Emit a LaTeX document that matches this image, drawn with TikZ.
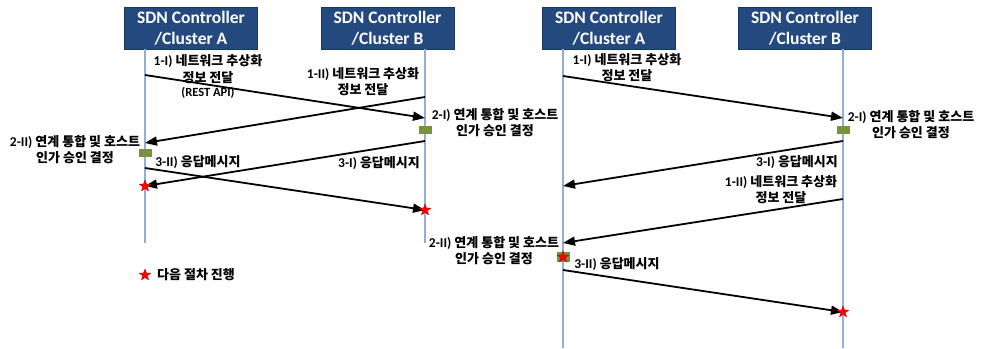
\documentclass[tikz,border=0pt]{standalone}
\usepackage{fontspec}
\setmainfont{Carlito}
\newfontfamily\krfont{Noto Sans CJK KR}
\usetikzlibrary{arrows.meta,shapes.geometric}

\definecolor{ctrlfill}{HTML}{24497E}
\definecolor{ctrledge}{HTML}{17375E}
\definecolor{lifeblue}{HTML}{97ACD6}
\definecolor{markgreen}{HTML}{76923C}

% Korean runs are set in Noto Sans CJK
\newcommand\kr[1]{{\krfont\bfseries\fontsize{13}{16}\selectfont #1}}

\tikzset{
  ctrl/.style={draw=ctrledge, line width=0.8pt, fill=ctrlfill, text=white,
    minimum width=133pt, minimum height=42pt, inner sep=0pt, align=center,
    font=\bfseries\fontsize{17.5}{21}\selectfont},
  lifeline/.style={draw=lifeblue, line width=1.3pt},
  msg/.style={draw=black, line width=1.8pt,
    -{Triangle[length=12pt,width=9pt]}},
  lbl/.style={inner sep=0pt, align=center,
    font=\bfseries\fontsize{13.5}{16}\selectfont},
  decide/.style={rectangle, fill=markgreen, minimum width=13pt,
    minimum height=8pt, inner sep=0pt},
  redstar/.style={star, star points=5, star point ratio=2.4, fill=red,
    draw=red!70!black, line width=0.3pt, minimum size=12pt, inner sep=0pt}
}

\begin{document}
\begin{tikzpicture}[x=1pt,y=-1pt]
\useasboundingbox (0,0) rectangle (982,348);

% ---------- first exchange (left) ----------
\node[ctrl] (la) at (191,28) {SDN Controller\\/Cluster A};
\node[ctrl] (lb) at (387.5,28) {SDN Controller\\/Cluster B};

\coordinate (laTop) at (145,49);  \coordinate (laBot) at (145,243);
\coordinate (lbTop) at (425,49);  \coordinate (lbBot) at (425,243);
\draw[lifeline] (laTop) -- (laBot);
\draw[lifeline] (lbTop) -- (lbBot);

% message points on the lifelines
\coordinate (la1) at (145,75);   \coordinate (lb1) at (425,118);
\coordinate (lb2) at (425,97);   \coordinate (la2) at (145,143);
\coordinate (lb3) at (425,141);  \coordinate (la3) at (145,186);
\coordinate (la4) at (145,168);  \coordinate (lb4) at (425,210);

\draw[msg] (la1) -- (lb1);
\draw[msg] (lb2) -- (la2);
\draw[msg] (lb3) -- (la3);
\draw[msg] (la4) -- (lb4);

\node[decide] (lbDec) at (425,130) {};
\node[decide] (laDec) at (145,153) {};
\node[redstar] (laDone) at (la3) {};
\node[redstar] (lbDone) at (lb4) {};

\node[lbl] (l1i) at (208,76) {1-I) \kr{네트워크 추상화}\\[1pt]\kr{정보 전달}\\[-2pt]{\fontsize{12.5}{13}\selectfont (REST API)}};
\node[lbl] (l1ii) at (363,82) {1-II) \kr{네트워크 추상화}\\\kr{정보 전달}};
\node[lbl] (l2i) at (495,123) {2-I) \kr{연계 통합 및 호스트}\\\kr{인가 승인 결정}};
\node[lbl] (l2ii) at (75,149.5) {2-II) \kr{연계 통합 및 호스트}\\\kr{인가 승인 결정}};
\node[lbl] (l3ii) at (198,162) {3-II) \kr{응답메시지}};
\node[lbl] (l3i) at (379,163) {3-I) \kr{응답메시지}};

% legend
\node[redstar] (legStar) at (145,275) {};
\node[lbl, anchor=west] (legText) at (157,275) {\kr{다음 절차 진행}};

% ---------- second exchange (right) ----------
\node[ctrl] (ra) at (609,28) {SDN Controller\\/Cluster A};
\node[ctrl] (rb) at (805,28) {SDN Controller\\/Cluster B};

\coordinate (raTop) at (563,49);  \coordinate (raBot) at (563,348);
\coordinate (rbTop) at (843,49);  \coordinate (rbBot) at (843,348);
\draw[lifeline] (raTop) -- (raBot);
\draw[lifeline] (rbTop) -- (rbBot);

\coordinate (ra1) at (563,76);   \coordinate (rb1) at (843,118);
\coordinate (rb3) at (843,141);  \coordinate (ra3) at (563,186);
\coordinate (rb2) at (843,199);  \coordinate (ra2) at (563,243);
\coordinate (ra4) at (563,270);  \coordinate (rb4) at (843,312);

\draw[msg] (ra1) -- (rb1);
\draw[msg] (rb3) -- (ra3);
\draw[msg] (rb2) -- (ra2);
\draw[msg] (ra4) -- (rb4);

\node[decide] (rbDec) at (843,130) {};
\node[decide, minimum height=10pt] (raDec) at (563,257) {};
\node[redstar] (raDone) at (raDec) {};
\node[redstar] (rbDone) at (rb4) {};

\node[lbl] (r1i) at (627,68) {1-I) \kr{네트워크 추상화}\\\kr{정보 전달}};
\node[lbl] (r2i) at (911,125) {2-I) \kr{연계 통합 및 호스트}\\\kr{인가 승인 결정}};
\node[lbl] (r3i) at (797,162) {3-I) \kr{응답메시지}};
\node[lbl] (r1ii) at (781,189.5) {1-II) \kr{네트워크 추상화}\\\kr{정보 전달}};
\node[lbl] (r2ii) at (494,250.5) {2-II) \kr{연계 통합 및 호스트}\\\kr{인가 승인 결정}};
\node[lbl] (r3ii) at (617,264) {3-II) \kr{응답메시지}};
\end{tikzpicture}
\end{document}
